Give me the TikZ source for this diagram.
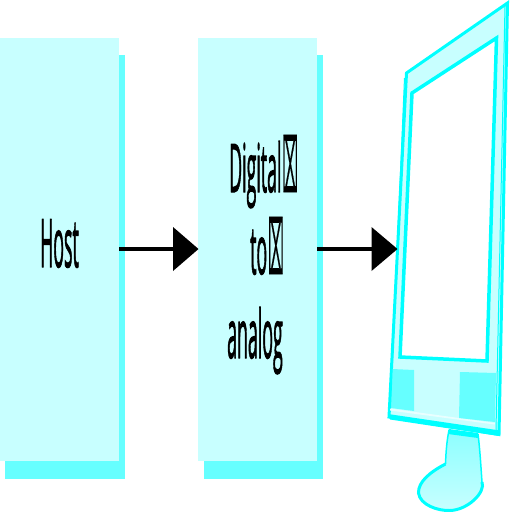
\documentclass[tikz,border=0pt]{standalone}
\usepackage{fontspec}
\setmainfont{Open Sans}[FakeBold=2]
\newfontfamily\symfont{DejaVu Sans}[FakeBold=1]
\definecolor{boxfill}{HTML}{C8FFFF}
\definecolor{shadowfill}{HTML}{66FFFF}
\definecolor{edgecyan}{HTML}{00FFFF}
\definecolor{neckfill}{HTML}{8CFFFF}
\newcommand{\cond}[1]{\scalebox{.265}[1]{\fontsize{67}{67}\selectfont\addfontfeature{FakeBold=2}#1}}
\newcommand{\miss}{\hspace{1pt}\scalebox{.2}[1.12]{\fontsize{67}{67}\selectfont\symfont\addfontfeature{FakeBold=1}⌧}}
\tikzset{
  x=1pt,y=-1pt,
  blockbox/.style={fill=boxfill,draw=none,minimum width=119pt,minimum height=423pt,inner sep=0pt,anchor=north west},
  shadowbox/.style={fill=shadowfill,draw=none,minimum width=119.5pt,minimum height=424pt,inner sep=0pt,anchor=north west},
  label/.style={inner sep=0pt,anchor=base west,text=black},
  flow/.style={line width=4pt,black,shorten >=25pt},
  headtri/.style={fill=black,draw=none},
  edge/.style={draw=edgecyan,line join=miter}
}
\begin{document}
\begin{tikzpicture}
\useasboundingbox (0,0) rectangle (512,512);
\node[shadowbox] (s1) at (5,55) {};
\node[blockbox] (host) at (0,38) {};
\node[shadowbox] (s2) at (203.5,55) {};
\node[blockbox] (dac) at (198,38) {};
\node[label] (t1) at (40,267) {\cond{Host}};
\node[label] (t2) at (229,192) {\cond{Digital}\miss};
\node[label] (t3) at (250,274) {\cond{to}\miss};
\node[label] (t4) at (227,358) {\cond{analog}};
% stand
\shade[top color=neckfill,bottom color=boxfill] (449,430) -- (478,434) .. controls (480,450) and (481,468) .. (482,482) .. controls (486,492) and (468,510) .. (450,510.5) .. controls (438,511) and (420,505) .. (418.5,493) .. controls (418,482) and (430,472) .. (445.5,464) .. controls (446,450) and (447,440) .. (449,430) -- cycle;
\draw[edgecyan,line width=1.5pt] (478,434) .. controls (480,450) and (481,468) .. (482,482);
\draw[edgecyan,line width=1.5pt] (445.5,464) .. controls (446,450) and (447,440) .. (449,430);
\draw[edgecyan,line width=3pt] (482,482) .. controls (486,492) and (468,510) .. (450,510.5) .. controls (438,511) and (420,505) .. (418.5,493) .. controls (418,482) and (430,472) .. (445.5,464);
\fill[edgecyan] (448,431) -- (449,429) -- (478,433) -- (478,438) -- (448,434) -- cycle;
% monitor
\path[edge,line width=3pt,fill=boxfill] (507.5,3) -- (406.5,73) -- (389,417) -- (499,434.5) -- cycle;
\fill[edgecyan] (388,414) -- (500,430.5) -- (499.5,436) -- (390,419.5) -- cycle;
\fill[white!60!boxfill] (390,408.5) -- (495,423) -- (494.5,424.5) -- (390,410.5) -- cycle;
\fill[shadowfill] (392,369) -- (414,370) -- (414,411) -- (391,408) -- cycle;
\fill[shadowfill] (460,372) -- (496,373) -- (495,422) -- (459,418) -- cycle;
\path[draw=edgecyan,line width=1pt] (505,6) -- (496,430);
\path[draw=edgecyan,line width=1pt] (404.5,78) -- (390.5,408);
\path[edge,line width=3.5pt,fill=white] (496.5,38) -- (412,93) -- (400,357) -- (487,361) -- cycle;
% connectors
\coordinate (a1) at (119,249);
\coordinate (a2) at (198.5,249);
\coordinate (b1) at (317,249);
\coordinate (b2) at (397.5,249);
\draw[flow] (a1) -- (a2);
\draw[flow] (b1) -- (b2);
\fill[headtri] (a2) -- (173,227) -- (173,271) -- cycle;
\fill[headtri] (b2) -- (371.5,227) -- (371.5,271) -- cycle;
\end{tikzpicture}
\end{document}
